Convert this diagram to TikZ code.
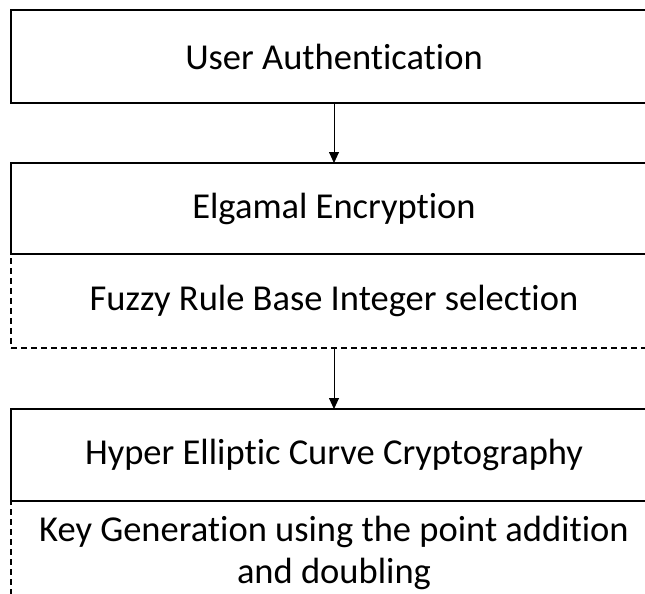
\documentclass[tikz,border=0pt]{standalone}
\usepackage{fontspec}
\setmainfont{Carlito}[RawFeature=-liga]
\usetikzlibrary{arrows.meta}
\begin{document}
\begin{tikzpicture}[x=1pt,y=-1pt,
  every node/.style={font=\fontsize{36.5}{42}\selectfont, inner sep=0pt, outer sep=0pt},
  solidbox/.style={draw=black, line width=1.2pt, minimum width=646pt},
  dashbox/.style={draw=black, line width=1.4pt, dash pattern=on 6pt off 4pt, minimum width=646pt},
  flow/.style={draw=black, line width=0.9pt, -{Triangle[length=11pt,width=10pt]}}
]
\clip (0,0) rectangle (645,594);
% stage 1
\node[solidbox, line width=1.6pt, minimum height=93pt] (auth) at (334,56.5) {User Authentication};
% stage 2
\node[dashbox, minimum height=94pt] (fuzzy) at (334,301) {Fuzzy Rule Base Integer selection};
\node[solidbox, minimum height=91pt] (elg) at (334,208.5) {Elgamal Encryption};
% stage 3
\node[dashbox, minimum height=120pt] (keygen) at (334,561) {};
\node[solidbox, minimum height=92pt] (hecc) at (334,455) {Hyper Elliptic Curve Cryptography};
\node[align=center] (keytext) at (334,553) {Key Generation using the point addition\\and doubling};
% connectors
\draw[flow] (auth.south) -- (elg.north);
\draw[flow] (fuzzy.south) -- (hecc.north);
\end{tikzpicture}
\end{document}
